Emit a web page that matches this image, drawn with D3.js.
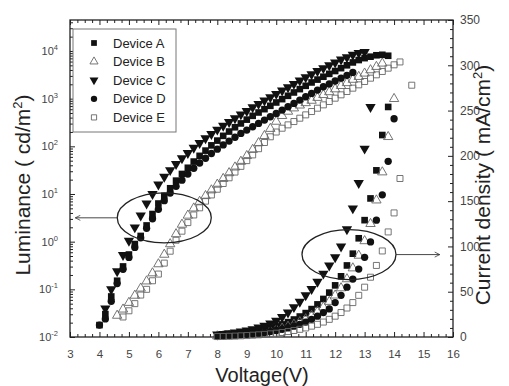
<!DOCTYPE html>
<html>
<head>
<meta charset="utf-8">
<script src="https://cdn.jsdelivr.net/npm/d3@7"></script>
<style>
  body { margin: 0; background: #fff; }
  svg { display: block; font-family: "Liberation Sans", Arial, sans-serif; }
</style>
</head>
<body>
<svg id="chart" width="509" height="386"></svg>
<script>
// bias voltage (V), shared by every series
const voltage = [4.0, 4.2, 4.4, 4.6, 4.8, 5.0, 5.2, 5.4, 5.6, 5.8,
  6.0, 6.2, 6.4, 6.6, 6.8, 7.0, 7.2, 7.4, 7.6, 7.8,
  8.0, 8.2, 8.4, 8.6, 8.8, 9.0, 9.2, 9.4, 9.6, 9.8,
  10.0, 10.2, 10.4, 10.6, 10.8, 11.0, 11.2, 11.4, 11.6, 11.8,
  12.0, 12.2, 12.4, 12.6, 12.8, 13.0, 13.2, 13.4, 13.6, 13.8,
  14.0, 14.2, 14.4, 14.6];

const devices = ['Device A', 'Device B', 'Device C', 'Device D', 'Device E'];

// luminance, log10(cd/m2); first point sits at voltage[lumStart[i]]
const lumA = [-1.75, -1.52, -1.15, -0.82, -0.52, -0.27, -0.05, 0.12, 0.34, 0.58,
  0.80, 0.96, 1.12, 1.28, 1.42, 1.55, 1.68, 1.80, 1.91, 2.02,
  2.12, 2.22, 2.31, 2.40, 2.48, 2.56, 2.64, 2.71, 2.78, 2.85,
  2.92, 2.99, 3.06, 3.13, 3.20, 3.27, 3.34, 3.40, 3.46, 3.52,
  3.58, 3.64, 3.70, 3.76, 3.81, 3.85, 3.88, 3.91, 3.92, 3.90];
const lumB = [-1.55, -1.42, -1.28, -1.13, -0.98, -0.83, -0.66, -0.47, -0.27, -0.05,
  0.16, 0.36, 0.55, 0.70, 0.84, 0.96, 1.08, 1.20, 1.32, 1.44,
  1.56, 1.68, 1.80, 1.93, 2.07, 2.22, 2.37, 2.52, 2.64, 2.73,
  2.80, 2.86, 2.91, 2.96, 3.02, 3.08, 3.14, 3.20, 3.27, 3.33,
  3.40, 3.46, 3.53, 3.60, 3.67, 3.74];
const lumC = [-1.40, -1.00, -0.62, -0.28, 0.02, 0.30, 0.55, 0.80, 1.00,
  1.20, 1.36, 1.50, 1.63, 1.75, 1.86, 1.97, 2.07, 2.17, 2.26,
  2.35, 2.43, 2.51, 2.59, 2.67, 2.74, 2.82, 2.89, 2.96, 3.03,
  3.10, 3.17, 3.24, 3.31, 3.38, 3.45, 3.51, 3.58, 3.64, 3.70,
  3.76, 3.82, 3.87, 3.92, 3.96, 3.98];
const lumD = [-1.75, -1.62, -1.25, -0.88, -0.58, -0.33, -0.12, 0.08, 0.28, 0.48,
  0.68, 0.86, 1.02, 1.16, 1.29, 1.42, 1.54, 1.65, 1.75, 1.85,
  1.94, 2.03, 2.11, 2.19, 2.27, 2.34, 2.41, 2.48, 2.55, 2.62,
  2.69, 2.76, 2.83, 2.90, 2.97, 3.04, 3.11, 3.18, 3.25, 3.31,
  3.37, 3.43, 3.49, 3.55];
const lumE = [-1.58, -1.45, -1.30, -1.12, -1.00, -0.82, -0.68, -0.45, -0.20, 0.03,
  0.22, 0.40, 0.56, 0.71, 0.85, 0.98, 1.10, 1.22, 1.34, 1.46,
  1.58, 1.70, 1.82, 1.95, 2.08, 2.20, 2.30, 2.38, 2.45, 2.52,
  2.59, 2.66, 2.73, 2.80, 2.87, 2.94, 3.01, 3.08, 3.15, 3.22,
  3.29, 3.36, 3.43, 3.50, 3.57, 3.64, 3.71, 3.77];
const lumStart = [0, 3, 1, 0, 4];

// current density (mA/cm2), first point at voltage[curStart[i]] (8.0 V)
const curA = [1.5, 1.9, 2.4, 3.0, 3.7, 4.6, 5.6, 6.8, 8.2, 9.8,
  11.7, 13.9, 16.4, 19.3, 22.6, 26.4, 30.8, 36, 42, 49,
  57, 67, 79, 92, 109, 129, 153, 184, 223, 254];
const curB = [0.9, 1.1, 1.4, 1.8, 2.3, 2.9, 3.6, 4.4, 5.4, 6.6,
  8.0, 9.6, 11.6, 13.9, 16.6, 19.8, 23.5, 28, 33, 39,
  46, 54, 64, 76, 90, 106, 125, 151, 182, 221, 263];
const curC = [2.8, 3.4, 4.1, 5.0, 6.0, 7.2, 8.7, 10.5, 12.5, 15,
  18, 22, 27, 33, 39, 46, 53, 61, 70, 79,
  88, 100, 119, 142, 170, 208, 254];
const curD = [1.0, 1.3, 1.6, 2.0, 2.4, 2.9, 3.5, 4.2, 5.0, 6.0,
  7.2, 8.5, 10, 12, 14, 16.5, 19.5, 23, 27, 31,
  38, 46, 55, 64, 75, 88, 105, 129, 157, 194, 241];
const curE = [0.5, 0.6, 0.8, 1.0, 1.3, 1.6, 2.0, 2.4, 2.9, 3.5,
  4.2, 5.0, 6.0, 7.2, 8.5, 10, 12, 14, 16.5, 19.5,
  23, 27, 32, 38, 46, 55, 66, 79, 95, 116,
  137, 175, null, 278];
const curStart = [20, 20, 20, 20, 20];

const xTicks = [3, 4, 5, 6, 7, 8, 9, 10, 11, 12, 13, 14, 15, 16];
const lumTickExp = [-2, -1, 0, 1, 2, 3, 4];
const curTicks = [0, 50, 100, 150, 200, 250, 300, 350];

const lumSeries = [lumA, lumB, lumC, lumD, lumE];
const curSeries = [curA, curB, curC, curD, curE];

// marker style per device
const markers = [
  { type: d3.symbolSquare, size: 44, rot: 0, fill: '#111', stroke: 'none' },
  { type: d3.symbolTriangle, size: 38, rot: 0, fill: 'none', stroke: '#666' },
  { type: d3.symbolTriangle, size: 46, rot: 180, fill: '#111', stroke: 'none' },
  { type: d3.symbolCircle, size: 42, rot: 0, fill: '#111', stroke: 'none' },
  { type: d3.symbolSquare, size: 36, rot: 0, fill: 'none', stroke: '#666' }
];
const legendScale = 0.75;

const plot = { left: 70, right: 453, top: 20, bottom: 337 };
const svg = d3.select('#chart');

const x = d3.scaleLinear().domain([3, 16]).range([plot.left, plot.right]);
const yL = d3.scaleLog().domain([0.01, Math.pow(10, 4.65)]).range([plot.bottom, plot.top]);
const yR = d3.scaleLinear().domain([0, 350]).range([plot.bottom, plot.top]);

const axisColor = '#222';
const labelColor = '#444';

function styleAxis(g) {
  g.select('.domain').remove();
  g.selectAll('.tick line').attr('stroke', axisColor).attr('stroke-width', 1);
  g.selectAll('.tick text').attr('fill', labelColor).attr('font-family', '"Liberation Sans", Arial, sans-serif');
}

// minor tick positions
const xMinor = d3.range(3, 16.01, 0.25).filter(v => Math.abs(v - Math.round(v)) > 0.01);
const rMinor = d3.range(0, 351, 10).filter(v => v % 50 !== 0);
const lMinor = [];
lumTickExp.forEach(e => { for (let k = 2; k <= 9; k++) { const v = k * Math.pow(10, e); if (v <= yL.domain()[1]) lMinor.push(v); } });

// bottom axis
svg.append('g').attr('transform', `translate(0,${plot.bottom})`)
  .call(d3.axisBottom(x).tickValues(xTicks).tickSizeInner(-5).tickSizeOuter(0).tickPadding(13).tickFormat(d3.format('d')))
  .call(styleAxis)
  .selectAll('.tick text').attr('font-size', 11.5);
svg.append('g').attr('transform', `translate(0,${plot.bottom})`)
  .call(d3.axisBottom(x).tickValues(xMinor).tickSizeInner(-3).tickSizeOuter(0).tickFormat(''))
  .call(styleAxis);

// top axis (ticks only)
svg.append('g').attr('transform', `translate(0,${plot.top})`)
  .call(d3.axisTop(x).tickValues(xTicks).tickSizeInner(-5).tickSizeOuter(0).tickFormat(''))
  .call(styleAxis);
svg.append('g').attr('transform', `translate(0,${plot.top})`)
  .call(d3.axisTop(x).tickValues(xMinor).tickSizeInner(-3).tickSizeOuter(0).tickFormat(''))
  .call(styleAxis);

// right axis
svg.append('g').attr('transform', `translate(${plot.right},0)`)
  .call(d3.axisRight(yR).tickValues(curTicks).tickSizeInner(-5).tickSizeOuter(0).tickPadding(7))
  .call(styleAxis)
  .selectAll('.tick text').attr('font-size', 12);
svg.append('g').attr('transform', `translate(${plot.right},0)`)
  .call(d3.axisRight(yR).tickValues(rMinor).tickSizeInner(-3).tickSizeOuter(0).tickFormat(''))
  .call(styleAxis);

// left log axis
svg.append('g').attr('transform', `translate(${plot.left},0)`)
  .call(d3.axisLeft(yL).tickValues(lumTickExp.map(e => Math.pow(10, e))).tickSizeInner(-5).tickSizeOuter(0).tickFormat(''))
  .call(styleAxis);
svg.append('g').attr('transform', `translate(${plot.left},0)`)
  .call(d3.axisLeft(yL).tickValues(lMinor).tickSizeInner(-3).tickSizeOuter(0).tickFormat(''))
  .call(styleAxis);

const lumLabels = svg.append('g').attr('fill', labelColor).attr('font-size', 11);
lumTickExp.forEach(e => {
  const t = lumLabels.append('text')
    .attr('x', 58)
    .attr('y', yL(Math.pow(10, e)) + 4)
    .attr('text-anchor', 'end');
  t.append('tspan').text('10');
  t.append('tspan').attr('dy', -5).attr('font-size', 7.5).text(e);
});

// frame
svg.append('rect')
  .attr('x', plot.left).attr('y', plot.top)
  .attr('width', plot.right - plot.left).attr('height', plot.bottom - plot.top)
  .attr('fill', 'none').attr('stroke', axisColor).attr('stroke-width', 1.3);

// data points
function drawPoints(values, start, yFn, m) {
  const pts = [];
  values.forEach((v, i) => { if (v !== null) pts.push({ v: voltage[start + i], y: yFn(v) }); });
  svg.append('g').selectAll('path').data(pts).enter().append('path')
    .attr('d', d3.symbol().type(m.type).size(m.size))
    .attr('transform', d => `translate(${x(d.v)},${d.y}) rotate(${m.rot})`)
    .attr('fill', m.fill)
    .attr('stroke', m.stroke)
    .attr('stroke-width', 0.9);
}

lumSeries.forEach((s, i) => drawPoints(s, lumStart[i], v => yL(Math.pow(10, v)), markers[i]));
curSeries.forEach((s, i) => drawPoints(s, curStart[i], v => yR(v), markers[i]));

// ellipses and arrows
svg.append('defs').append('marker')
  .attr('id', 'arrow').attr('viewBox', '0 0 10 10').attr('refX', 9).attr('refY', 5)
  .attr('markerWidth', 7).attr('markerHeight', 7).attr('orient', 'auto')
  .append('path').attr('d', 'M1,1 L9,5 L1,9').attr('fill', 'none').attr('stroke', '#333').attr('stroke-width', 1.2);

const ellL = { cx: x(6.2), cy: yL(Math.pow(10, 0.5)), rx: 47, ry: 25 };
const ellR = { cx: x(12.47), cy: yR(91), rx: 47, ry: 25 };
[ellL, ellR].forEach(e => {
  svg.append('ellipse').attr('cx', e.cx).attr('cy', e.cy).attr('rx', e.rx).attr('ry', e.ry)
    .attr('fill', 'none').attr('stroke', '#222').attr('stroke-width', 1.3);
});
svg.append('line')
  .attr('x1', ellL.cx - ellL.rx).attr('y1', ellL.cy)
  .attr('x2', x(3.18)).attr('y2', ellL.cy)
  .attr('stroke', '#333').attr('stroke-width', 0.9).attr('marker-end', 'url(#arrow)');
svg.append('line')
  .attr('x1', ellR.cx + ellR.rx).attr('y1', ellR.cy)
  .attr('x2', x(15.55)).attr('y2', ellR.cy)
  .attr('stroke', '#333').attr('stroke-width', 0.9).attr('marker-end', 'url(#arrow)');

// legend
const legend = svg.append('g');
legend.append('rect').attr('x', 73).attr('y', 29).attr('width', 103).attr('height', 103)
  .attr('fill', '#fff').attr('stroke', '#777').attr('stroke-width', 1);
devices.forEach((name, i) => {
  const ly = 43 + i * 18.6;
  const m = markers[i];
  legend.append('path')
    .attr('d', d3.symbol().type(m.type).size(m.size * legendScale)())
    .attr('transform', `translate(94,${ly}) rotate(${m.rot})`)
    .attr('fill', m.fill).attr('stroke', m.stroke).attr('stroke-width', 0.9);
  legend.append('text').attr('x', 113).attr('y', ly).attr('dy', '0.35em')
    .attr('font-size', 13).attr('fill', '#222').text(name);
});

// axis titles
svg.append('text').attr('x', 262).attr('y', 382).attr('text-anchor', 'middle')
  .attr('font-size', 20).attr('fill', '#222').text('Voltage(V)');

const tl = svg.append('text').attr('transform', 'translate(30,185) rotate(-90)')
  .attr('text-anchor', 'middle').attr('font-size', 21).attr('fill', '#222');
tl.append('tspan').text('Luminance ( cd/m');
tl.append('tspan').attr('dy', -8).attr('font-size', 13).text('2');
tl.append('tspan').attr('dy', 8).text(')');

const tr = svg.append('text').attr('transform', 'translate(490,185) rotate(-90)')
  .attr('text-anchor', 'middle').attr('font-size', 21).attr('fill', '#222');
tr.append('tspan').text('Current density ( mA/cm');
tr.append('tspan').attr('dy', -8).attr('font-size', 13).text('2');
tr.append('tspan').attr('dy', 8).text(')');
</script>
</body>
</html>
